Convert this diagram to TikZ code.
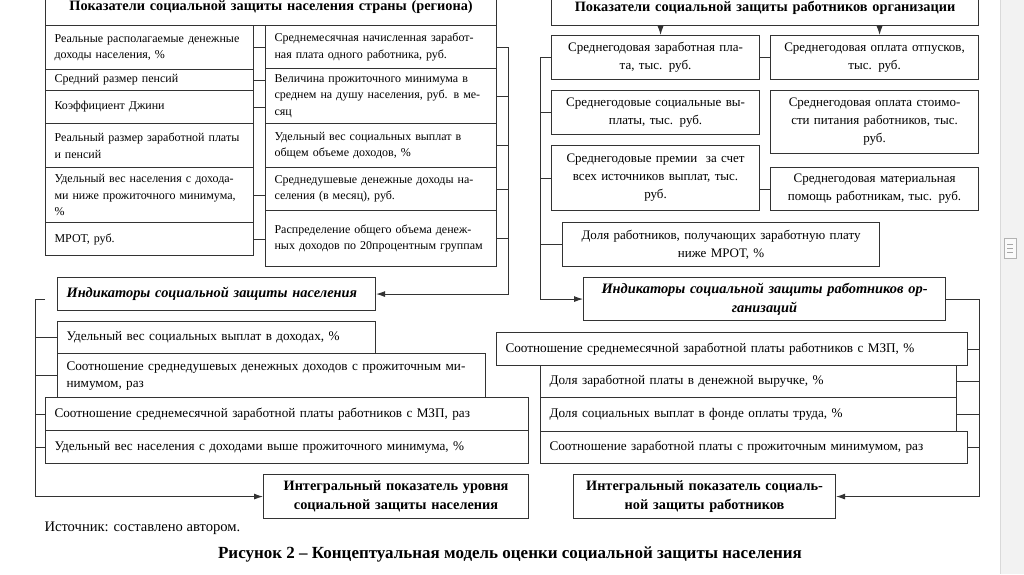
\documentclass[tikz,border=0pt]{standalone}
\usepackage{fontspec}
\setmainfont{Liberation Serif}
\usetikzlibrary{arrows.meta}
\tikzset{
  cell/.style={draw=black!80, line width=1.1pt, anchor=north west, inner xsep=9pt, inner ysep=1pt, align=left, font=\fontsize{12}{16.5}\selectfont},
  orgcell/.style={cell, align=center, font=\fontsize{13}{18}\selectfont},
  indcell/.style={cell, font=\fontsize{13.2}{17}\selectfont},
  headcell/.style={cell, align=center, font=\fontsize{14.3}{19}\selectfont\bfseries},
  indhead/.style={cell, font=\fontsize{14.4}{19}\selectfont\bfseries\itshape},
  sz/.style 2 args={minimum width=#1pt, text width=#1pt-18pt, minimum height=#2pt},
  link/.style={draw=black!80, line width=0.9pt},
  arrowtip/.style={-{Latex[length=9pt, width=6pt]}},
}
\begin{document}
\begin{tikzpicture}[x=1pt, y=-1pt]
  \useasboundingbox (0,0) rectangle (1024,574);
  \clip (0,0) rectangle (1024,574);

  % scroll bar of the viewer
  \fill[black!5] (1000,0) rectangle (1024,574);
  \draw[black!15] (1000,0) -- (1000,574);
  \draw[black!30, fill=black!2] (1004,238) rectangle (1016,258);
  \foreach \gy in {244,248,252} \draw[black!35] (1007,\gy) -- (1013,\gy);

  % indicators of the country (region)
  \node[headcell, sz={451}{36}] (plT) at (45,-11) {Показатели социальной защиты населения страны (региона)};

  \node[cell, sz={208}{44}] (pl1) at (45,25) {Реальные располагаемые денежные\\доходы населения, \%};
  \node[cell, sz={208}{21}] (pl2) at (45,69) {Средний размер пенсий};
  \node[cell, sz={208}{33}] (pl3) at (45,90) {Коэффициент Джини\\[4pt]};
  \node[cell, sz={208}{44}] (pl4) at (45,123) {Реальный размер заработной платы\\и пенсий};
  \node[cell, sz={208}{55}] (pl5) at (45,167) {Удельный вес населения с дохода-\\ми ниже прожиточного минимума,\\\%};
  \node[cell, sz={208}{33}] (pl6) at (45,222) {МРОТ, руб.\\[4pt]};

  \node[cell, sz={231}{43}] (pr1) at (265,25) {Среднемесячная начисленная заработ-\\ная плата одного работника, руб.};
  \node[cell, sz={231}{55}] (pr2) at (265,68) {Величина прожиточного минимума в\\среднем на душу населения, руб. в ме-\\сяц};
  \node[cell, sz={231}{44}] (pr3) at (265,123) {Удельный вес социальных выплат в\\общем объеме доходов, \%};
  \node[cell, sz={231}{43}] (pr4) at (265,167) {Среднедушевые денежные доходы на-\\селения (в месяц), руб.};
  \node[cell, sz={231}{56}] (pr5) at (265,210) {Распределение общего объема денеж-\\ных доходов по 20процентным группам\\[4pt]};

  \foreach \n in {pl1,pl2,pl3,pl5,pl6}
    \draw[link] (\n.east) -- (\n.east -| pr1.west);

  % indicators of the organisation
  \node[headcell, sz={427}{36}] (orgT) at (551,-11) {Показатели социальной защиты работников организации};

  \node[orgcell, sz={208}{44}] (a1) at (551,35) {Среднегодовая заработная пла-\\та, тыс. руб.};
  \node[orgcell, sz={208}{44}] (b1) at (770,35) {Среднегодовая оплата отпусков,\\тыс. руб.};
  \node[orgcell, sz={208}{44}] (a2) at (551,90) {Среднегодовые социальные вы-\\платы, тыс. руб.};
  \node[orgcell, sz={208}{63}] (b2) at (770,90) {Среднегодовая оплата стоимо-\\сти питания работников, тыс.\\руб.};
  \node[orgcell, sz={208}{65}] (a3) at (551,145) {Среднегодовые премии\ \ за счет\\всех источников выплат, тыс.\\руб.};
  \node[orgcell, sz={208}{43}] (b3) at (770,167) {Среднегодовая материальная\\помощь работникам, тыс. руб.};
  \node[orgcell, sz={317}{44}] (a4) at (562,222) {Доля работников, получающих заработную плату\\ниже МРОТ, \%};

  \draw[link, arrowtip] ([xshift=5pt]orgT.south -| a1.north) -- ([xshift=5pt]a1.north);
  \draw[link, arrowtip] ([xshift=5pt]orgT.south -| b1.north) -- ([xshift=5pt]b1.north);
  \draw[link] (a1.east) -- (b1.west);
  \draw[link] (b3.west) -- (b3.west -| a3.east);

  % indicators of social protection of the population
  \node[indhead, sz={318}{33}] (indL) at (57,277) {Индикаторы социальной защиты населения};
  \node[indcell, sz={318}{32}] (L1) at (57,321) {Удельный вес социальных выплат в доходах, \%};
  \node[indcell, sz={428}{44}] (L2) at (57,353) {Соотношение среднедушевых денежных доходов с прожиточным ми-\\нимумом, раз};
  \node[indcell, sz={483}{33}] (L3) at (45,397) {Соотношение среднемесячной заработной платы работников с МЗП, раз};
  \node[indcell, sz={483}{33}] (L4) at (45,430) {Удельный вес населения с доходами выше прожиточного минимума, \%};
  \node[headcell, sz={265}{44}] (intL) at (263,474) {Интегральный показатель уровня\\социальной защиты населения};

  % indicators of social protection of employees
  \node[indhead, align=center, sz={362}{43}] (indR) at (583,277) {Индикаторы социальной защиты работников ор-\\ганизаций};
  \node[indcell, sz={471}{33}] (R1) at (496,332) {Соотношение среднемесячной заработной платы работников с МЗП, \%};
  \node[indcell, sz={416}{32}] (R2) at (540,365) {Доля заработной платы в денежной выручке, \%};
  \node[indcell, sz={416}{34}] (R3) at (540,397) {Доля социальных выплат в фонде оплаты труда, \%};
  \node[indcell, sz={427}{32}] (R4) at (540,431) {Соотношение заработной платы с прожиточным минимумом, раз};
  \node[headcell, sz={262}{44}] (intR) at (573,474) {Интегральный показатель социаль-\\ной защиты работников};

  % brackets and arrows
  \foreach \n in {pr2,pr3,pr4,pr5}
    \draw[link] (\n.east) -- ++(11,0);
  \draw[link, arrowtip] (pr1.east) -- ++(11,0) |- (indL.east);

  \foreach \n in {a2,a3}
    \draw[link] (\n.west) -- ++(-11,0);
  \draw[link] (a4.west) -- ++(-22,0);
  \draw[link, arrowtip] (a1.west) -- ++(-11,0) |- (indR.west);

  \coordinate (lbtop) at (45,299);
  \foreach \n in {L1,L2}
    \draw[link] (\n.west) -- ++(-22,0);
  \foreach \n in {L3,L4}
    \draw[link] (\n.west) -- ++(-10,0);
  \draw[link, arrowtip] (lbtop) -- ++(-10,0) |- (intL.west);

  \foreach \n in {R1,R4}
    \draw[link] (\n.east) -- ++(11,0);
  \foreach \n in {R2,R3}
    \draw[link] (\n.east) -- ++(22,0);
  \draw[link, arrowtip] (indR.east) -- ++(33,0) |- (intR.east);

  % source and caption
  \node[anchor=west, font=\fontsize{14.6}{17}\selectfont] (src) at (41,528) {Источник: составлено автором.};
  \node[font=\fontsize{17}{20}\selectfont\bfseries] (cap) at (510,554) {Рисунок 2 – Концептуальная модель оценки социальной защиты населения};
\end{tikzpicture}
\end{document}
